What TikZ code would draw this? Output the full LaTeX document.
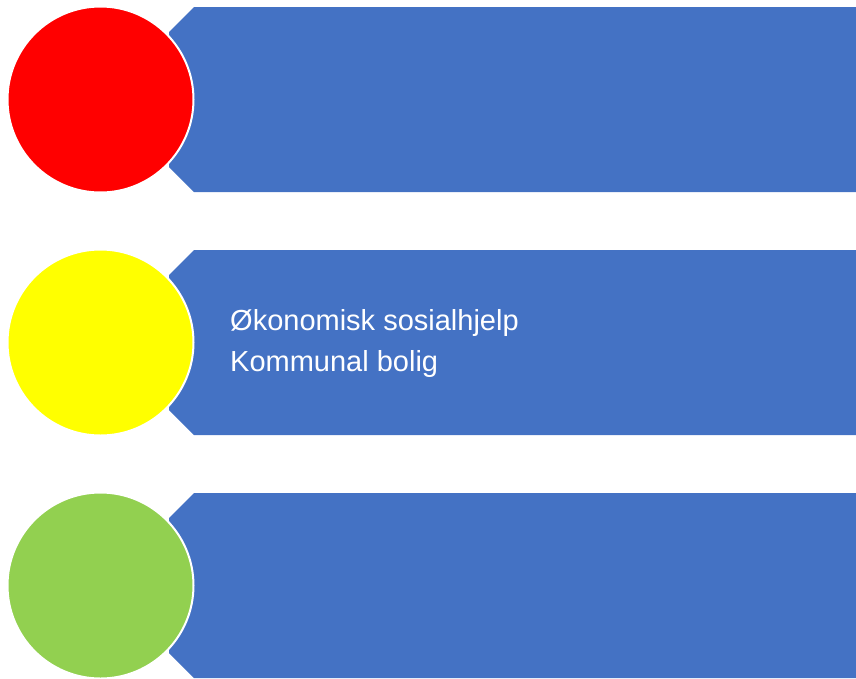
\documentclass[tikz,border=0pt]{standalone}
\usepackage{fontspec}
\setmainfont{Liberation Sans}
\definecolor{bannerblue}{HTML}{4472C4}
\definecolor{cred}{HTML}{FF0000}
\definecolor{cyellow}{HTML}{FFFF00}
\definecolor{cgreen}{HTML}{92D050}
\begin{document}
\begin{tikzpicture}[x=1pt,y=-1pt,
  banner/.style={fill=bannerblue,draw=none},
  disc/.style={circle,draw=white,line width=2pt,minimum size=186pt,inner sep=0pt},
  itemtext/.style={text=white,font=\fontsize{29}{41}\selectfont,anchor=base west,inner sep=0pt}]
\useasboundingbox (0,0) rectangle (856,678);
\foreach \y/\c/\n in {7/cred/r,250/cyellow/y,493/cgreen/g}{
  \fill[bannerblue] (194,\y) -- (856,\y) -- (856,\y+185) -- (194,\y+185) -- (169,\y+160) -- (169,\y+25) -- cycle;
  \node[disc,fill=\c] (c\n) at (100.5,\y+92.5) {};
}
\node[itemtext] (t1) at (230,330) {Økonomisk sosialhjelp};
\node[itemtext] (t2) at (230,371) {Kommunal bolig};
\end{tikzpicture}
\end{document}
